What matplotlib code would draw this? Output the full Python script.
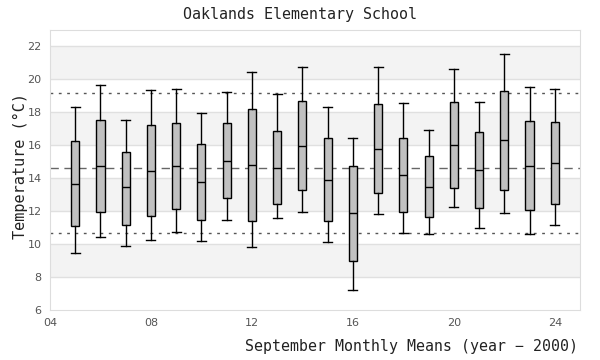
"""Oaklands Elementary School: September monthly mean temperatures, box plot by year."""

import matplotlib

matplotlib.use("Agg")
import matplotlib.pyplot as plt

years = list(range(5, 25))
whisker_low = [9.49, 10.46, 9.86, 10.28, 10.75, 10.16, 11.49, 9.80, 11.56, 11.98,
               10.10, 7.19, 11.80, 10.65, 10.59, 12.28, 10.95, 11.86, 10.59, 11.19]
q1 = [11.07, 11.96, 11.19, 11.68, 12.14, 11.49, 12.77, 11.43, 12.46, 13.31,
      11.43, 8.95, 13.13, 11.92, 11.62, 13.43, 12.22, 13.31, 12.10, 12.46]
median = [13.68, 14.77, 13.45, 14.46, 14.77, 13.80, 15.07, 14.83, 14.65, 15.98,
          13.92, 11.86, 15.80, 14.22, 13.49, 16.04, 14.53, 16.34, 14.77, 14.95]
q3 = [16.28, 17.56, 15.62, 17.25, 17.37, 16.08, 17.37, 18.22, 16.89, 18.71,
      16.46, 14.77, 18.53, 16.46, 15.37, 18.65, 16.83, 19.31, 17.49, 17.43]
whisker_high = [18.32, 19.68, 17.54, 19.35, 19.41, 17.98, 19.23, 20.46, 19.09, 20.77,
                18.32, 16.46, 20.77, 18.59, 16.93, 20.63, 18.65, 21.56, 19.56, 19.43]

overall_mean = 14.6
upper_limit = 19.15
lower_limit = 10.65

x_ticks = [4, 8, 12, 16, 20, 24]
y_ticks = [6, 8, 10, 12, 14, 16, 18, 20, 22]

MONO = ["DejaVu Sans Mono", "Liberation Mono"]

fig = plt.figure(figsize=(6.0, 3.6), dpi=100)
ax = fig.add_axes([50 / 600, 1 - 310 / 360, 530 / 600, 280 / 360])

# alternating bands and horizontal grid
for lo in (8, 12, 16, 20):
    ax.axhspan(lo, lo + 2, color="#f3f3f3", lw=0, zorder=0)
for y in y_ticks[1:]:
    ax.axhline(y, color="#e0e0e0", lw=1.0, zorder=0.5)

ax.axhline(overall_mean, color="#666666", lw=1.0, ls=(0, (6, 4)), zorder=1)
for y in (upper_limit, lower_limit):
    ax.axhline(y, color="#555555", lw=1.0, ls=(0, (2, 4)), zorder=1)

stats = [
    {"whislo": lo, "q1": a, "med": m, "q3": b, "whishi": hi}
    for lo, a, m, b, hi in zip(whisker_low, q1, median, q3, whisker_high)
]
ax.bxp(
    stats,
    positions=years,
    widths=0.32,
    showfliers=False,
    patch_artist=True,
    manage_ticks=False,
    boxprops=dict(facecolor="#c0c0c0", edgecolor="black", lw=1.0),
    medianprops=dict(color="black", lw=1.0),
    whiskerprops=dict(color="black", lw=1.0),
    capprops=dict(color="black", lw=1.0),
    capwidths=0.36,
    zorder=3,
)

ax.set_xlim(4, 25)
ax.set_ylim(6, 23)
ax.set_xticks(x_ticks)
ax.set_xticklabels([f"{t:02d}" for t in x_ticks])
ax.set_yticks(y_ticks)
ax.tick_params(length=0, labelsize=8, labelcolor="#555555", pad=6)
for s in ax.spines.values():
    s.set_color("#dddddd")

fig.text(0.5, 1 - 14 / 360, "Oaklands Elementary School", ha="center", va="center",
         family=MONO, fontsize=10.8, color="#222222")
fig.text(578 / 600, 1 - 347 / 360, "September Monthly Means (year \u2212 2000)", ha="right",
         va="center", family=MONO, fontsize=10.7, color="#222222")
fig.text(20 / 600, 1 - 166 / 360, "Temperature (\u00b0C)", ha="center", va="center",
         rotation=90, family=MONO, fontsize=11, color="#222222")

fig.savefig("out.png", dpi=100)
